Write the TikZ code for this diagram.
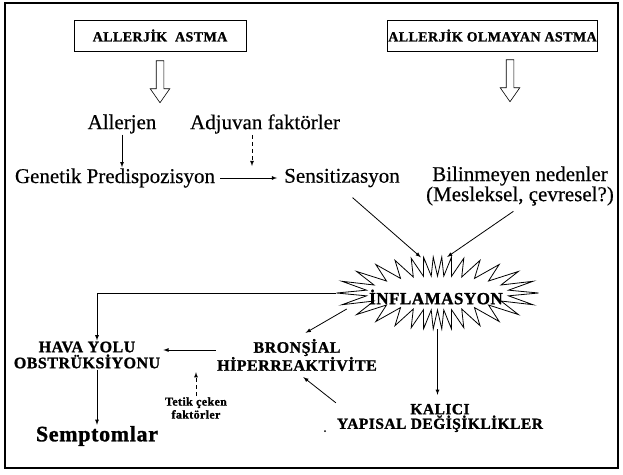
\documentclass[tikz,border=0pt]{standalone}
\usepackage{fontspec}
\setmainfont{Liberation Serif}[FakeBold=0.4]
\newfontfamily\widefont{Liberation Serif}[LetterSpace=3,FakeBold=1.2]
\usetikzlibrary{arrows,shapes.arrows,shapes.geometric}

\begin{document}
\begin{tikzpicture}[x=1pt,y=-1pt,>=latex,
	txt/.style={font=\fontsize{21}{22}\selectfont,inner sep=1pt},
	caps/.style={font=\fontsize{16}{16}\widefont\bfseries,align=center,inner sep=1pt},
	typebox/.style={draw,line width=0.6pt,minimum height=31pt,inner sep=1pt,
		font=\fontsize{14}{15}\widefont\bfseries},
	hollow/.style={draw,single arrow,shape border rotate=270,minimum height=42pt,
		inner sep=3.5pt,single arrow head extend=6pt,single arrow tip angle=70,line width=0.6pt},
	link/.style={->,line width=0.8pt},
	weak/.style={->,line width=0.8pt,dash pattern=on 4pt off 3pt}]
		\useasboundingbox (0,0) rectangle (623,474);
		\draw[line width=1.5pt] (5,3) rectangle (618,468);
		% types of asthma
		\node[typebox,minimum width=172pt] (allerjik) at (160,35.5) {ALLERJİK\ \ ASTMA};
		\node[typebox,minimum width=201pt] (olmayan) at (492.5,35.5) {ALLERJİK OLMAYAN ASTMA};
		\node[hollow] (harrA) at (160,79) {};
		\node[hollow] (harrB) at (510,78) {};
		% causes
		\node[txt] (allerjen) at (122,124) {Allerjen};
		\node[txt] (adjuvan) at (265,124) {Adjuvan faktörler};
		\node[txt] (genetik) at (115,178) {Genetik Predispozisyon};
		\node[txt] (sens) at (342,178) {Sensitizasyon};
		\node[txt,align=center,font=\fontsize{21}{19}\selectfont] (bilinm) at (520,186) {Bilinmeyen nedenler\\(Mesleksel, çevresel?)};
		\coordinate (join) at (252,166);
		\draw[link] (allerjen.south) -- (allerjen.south |- genetik.north);
		\draw[weak] (adjuvan.south -| join) -- (join);
		\draw[link,shorten <=4pt,shorten >=6pt] (genetik) -- (sens);
		% inflammation
		\node[ellipse,minimum width=202pt,minimum height=72pt,inner sep=0pt] (burst) at (437.5,293) {};
		\draw[line width=0.8pt,shift={(burst.center)}] plot[domain=0:60,samples=61,variable=\k]
			({(86.5+14.5*cos(180*\k))*cos(6*\k+17.2*sin(12*\k))},
			 {(26.5+9.5*cos(180*\k))*sin(6*\k+17.2*sin(12*\k))});
		\node[caps,font=\fontsize{17}{17}\widefont\bfseries] (inf) at (436,297) {İNFLAMASYON};
		\draw[link,shorten <=14pt] (sens.south) -- (burst.115);
		\draw[link,shorten <=8pt] (bilinm.south) -- (burst.75);
		% consequences
		\node[caps] (hava) at (87,355) {HAVA YOLU\\OBSTRÜKSİYONU};
		\node[caps] (bron) at (297,355) {BRONŞİAL\\HİPERREAKTİVİTE};
		\node[caps,font=\fontsize{12}{13}\widefont\bfseries] (tetik) at (196,408) {Tetik çeken\\faktörler};
		\node[caps,font=\fontsize{22}{24}\widefont\bfseries] (sempt) at (97,436) {Semptomlar};
		\node[caps,font=\fontsize{15.5}{13}\widefont\bfseries] (kalici) at (440,418) {KALICI\\YAPISAL DEĞİŞİKLİKLER};
		\fill (325,431) circle (1pt);
		\draw[link] (burst.west) -| ([xshift=10pt]hava.north);
		\draw[link,shorten >=10pt] (burst.190) -- (bron.north);
		\draw[link,shorten >=2pt] ([yshift=5pt]bron.west) -- ([yshift=5pt]bron.west -| hava.east);
		\draw[weak] (tetik.north) -- (tetik.north |- bron.south);
		\draw[link] (sempt.north |- hava.south) -- (sempt.north);
		\draw[link,shorten >=8pt] (burst.south) -- (kalici.north -| burst.south);
		\draw[link,shorten >=8pt] (kalici.north west) -- (bron.south);
	\end{tikzpicture}
\end{document}
